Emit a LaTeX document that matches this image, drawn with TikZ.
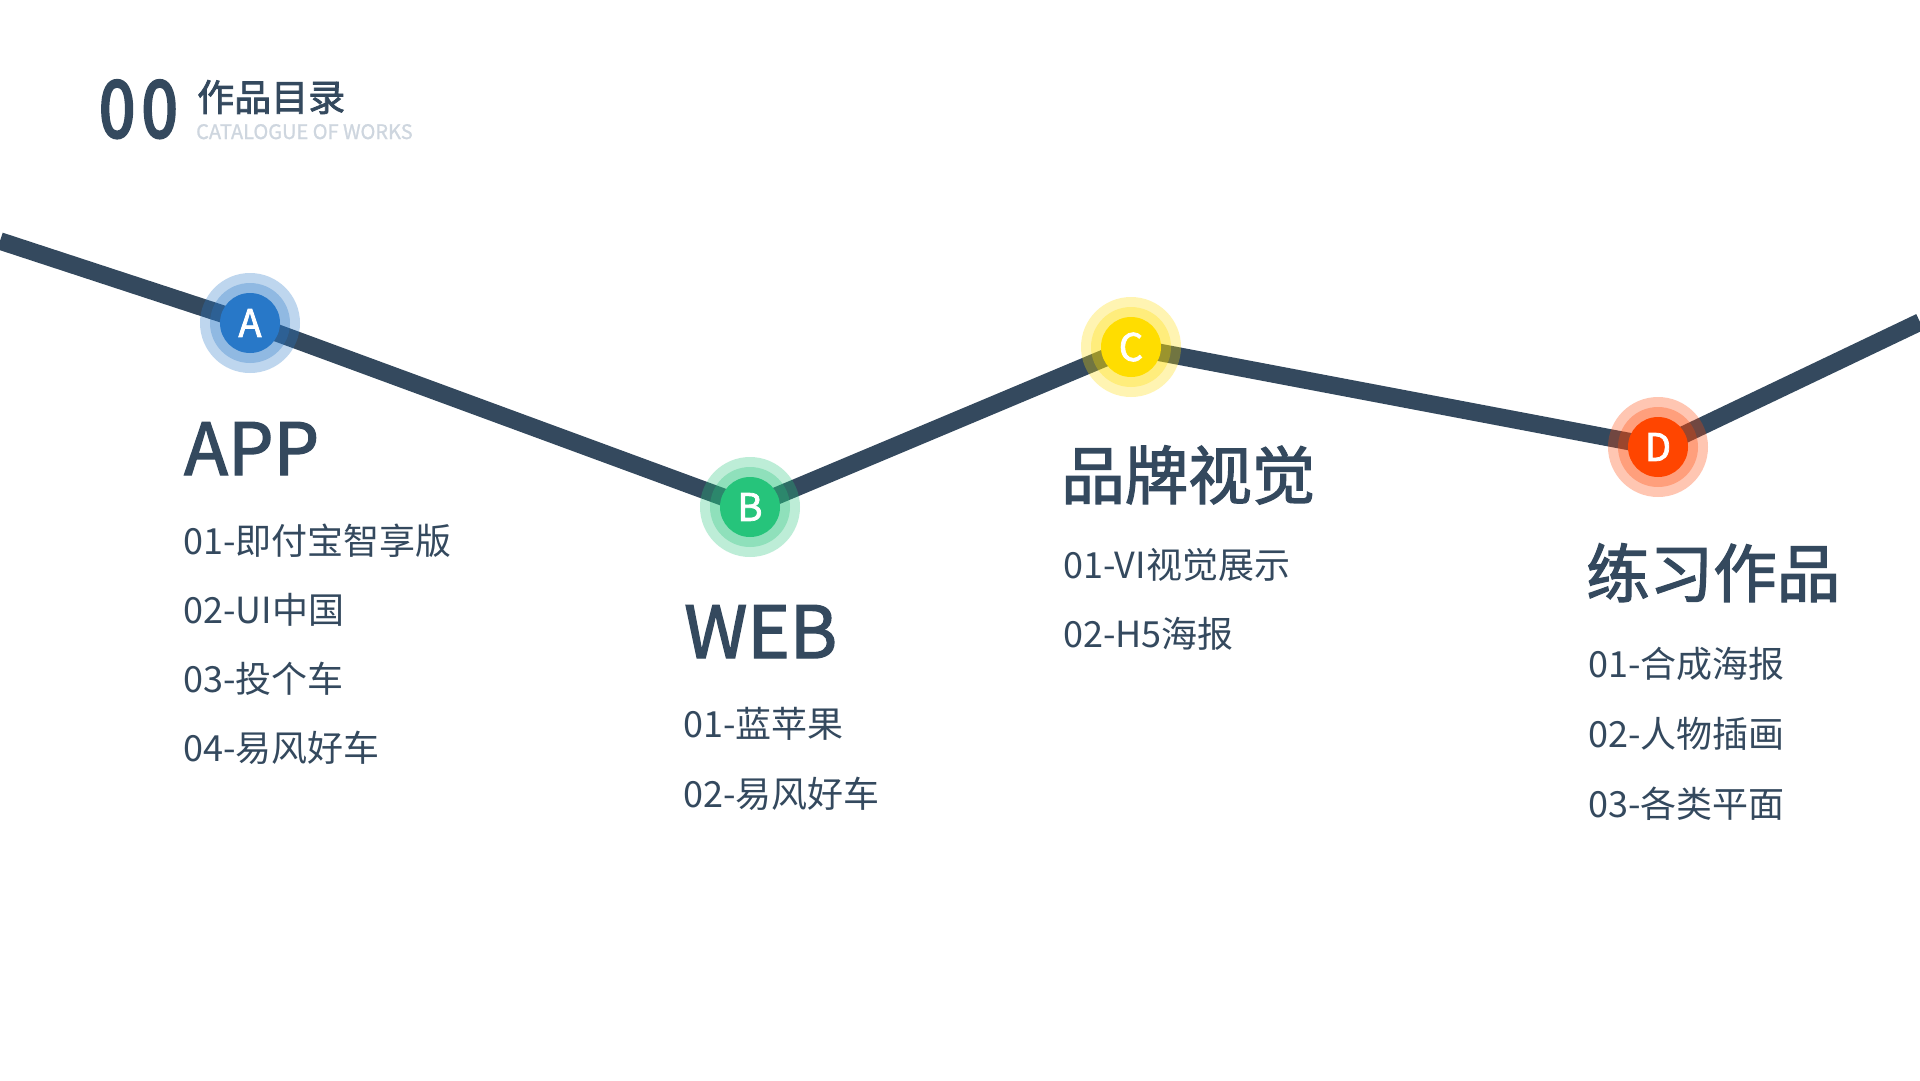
\documentclass[tikz,border=0pt]{standalone}
\usepackage{fontspec}
\setmainfont{Noto Sans CJK SC}
\newfontfamily\medfont[FakeBold=2]{Noto Sans CJK SC}
\newfontfamily\semifont[FakeBold=1]{Noto Sans CJK SC}
\newfontfamily\heavyfont[FakeBold=4]{Noto Sans CJK SC}
\usetikzlibrary{positioning, backgrounds}

\definecolor{ink}{HTML}{34495E}
\definecolor{subgray}{HTML}{CED6DF}
\definecolor{blueA}{HTML}{2878C8}
\definecolor{greenB}{HTML}{26C47B}
\definecolor{yellowC}{HTML}{FFDD00}
\definecolor{orangeD}{HTML}{FF4500}

\tikzset{
  halo/.style={circle, inner sep=0, minimum size=100pt, fill=#1, fill opacity=.3},
  ring/.style={circle, inner sep=0, minimum size=80pt, fill=#1, fill opacity=.3},
  core/.style={circle, inner sep=0, minimum size=60pt, fill=#1, text=white,
    font=\medfont\fontsize{38}{38}\selectfont},
  track/.style={ink, line width=17.5pt, line join=round},
  heading/.style={anchor=base west, inner sep=0, text=ink, font=\medfont\fontsize{72}{72}\selectfont},
  cjkheading/.style={anchor=base west, inner sep=0, text=ink, font=\medfont\fontsize{63.5}{64}\selectfont},
  item/.style={anchor=base west, inner sep=0, text=ink, font=\fontsize{36}{36}\selectfont}
}

\begin{document}
\begin{tikzpicture}[x=1pt, y=-1pt]
            \useasboundingbox (0, 0) rectangle (1920, 1080);
            % title block
            \node[anchor=base west, inner sep=0, xscale=.83, text=ink,
              font=\heavyfont\fontsize{78}{78}\selectfont] (num) at (99, 137) {0\kern8pt0};
            \node[anchor=base west, inner sep=0, text=ink,
              font=\medfont\fontsize{37}{37}\selectfont] (cat) at (197, 111) {作品目录};
            \node[anchor=base west, inner sep=0, text=subgray,
              font=\semifont\fontsize{20}{20}\selectfont] (catsub) at (196, 139) {CATALOGUE OF WORKS};
            % milestones
            \node[halo=blueA] (a-halo) at (250, 323) {};
            \node[ring=blueA] (a-ring) at (a-halo) {};
            \node[core=blueA] (a) at (a-halo) {A};
            \node[halo=greenB] (b-halo) at (750, 507) {};
            \node[ring=greenB] (b-ring) at (b-halo) {};
            \node[core=greenB] (b) at (b-halo) {B};
            \node[halo=yellowC] (c-halo) at (1131, 347) {};
            \node[ring=yellowC] (c-ring) at (c-halo) {};
            \node[core=yellowC] (c) at (c-halo) {C};
            \node[halo=orangeD] (d-halo) at (1658, 447) {};
            \node[ring=orangeD] (d-ring) at (d-halo) {};
            \node[core=orangeD] (d) at (d-halo) {D};
            \coordinate (start) at (0, 241);
            \coordinate (end) at (1920, 322);
            \begin{scope}[on background layer]
              \fill[white] (0, 0) rectangle (1920, 1080);
              \draw[track] (start) -- (a.center) -- (b.center) -- (c.center) -- (d.center) -- (end);
            \end{scope}
            % APP
            \node[heading] (app) at (184, 475) {APP};
            \node[item] (app1) at (183, 554) {01-即付宝智享版};
            \node[item] (app2) at (183, 623) {02-UI中国};
            \node[item] (app3) at (183, 692) {03-投个车};
            \node[item] (app4) at (183, 761) {04-易风好车};
            % WEB
            \node[heading] (web) at (684, 658) {WEB};
            \node[item] (web1) at (683, 737) {01-蓝苹果};
            \node[item] (web2) at (683, 807) {02-易风好车};
            % brand
            \node[cjkheading] (brand) at (1061, 499) {品牌视觉};
            \node[item] (brand1) at (1063, 578) {01-VI视觉展示};
            \node[item] (brand2) at (1063, 647) {02-H5海报};
            % practice
            \node[cjkheading] (prac) at (1586, 597) {练习作品};
            \node[item] (prac1) at (1588, 677) {01-合成海报};
            \node[item] (prac2) at (1588, 747) {02-人物插画};
            \node[item] (prac3) at (1588, 817) {03-各类平面};
        \end{tikzpicture}
\end{document}
